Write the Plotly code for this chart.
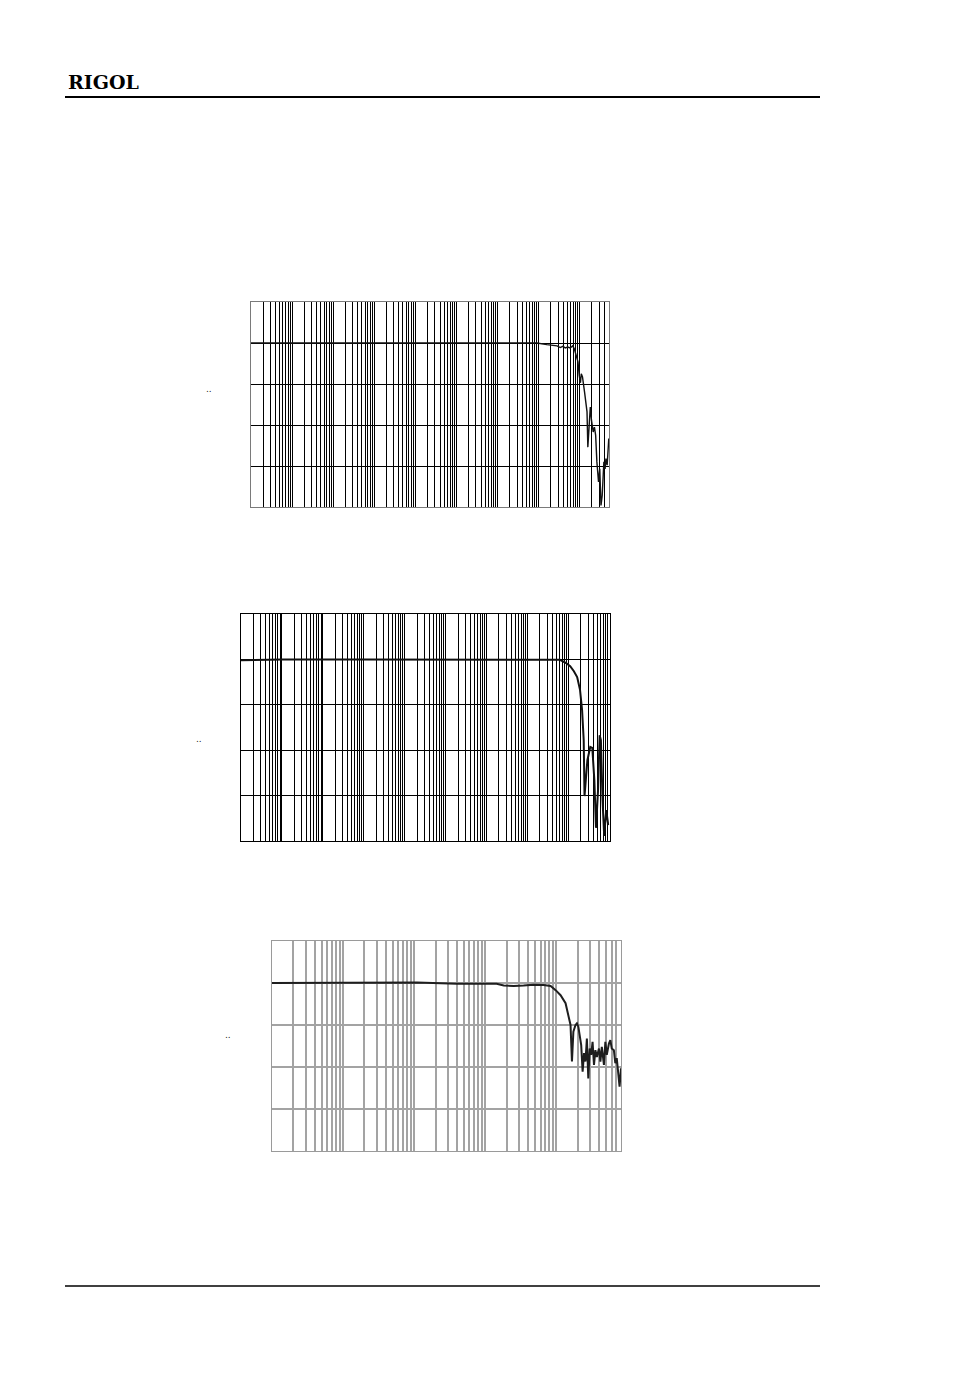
import numpy as np
import plotly.graph_objects as go

PAGE_W, PAGE_H = 954, 1384
OFF = 8  # default body margin of the html page
W, H = PAGE_W - 2 * OFF, PAGE_H - 2 * OFF

# ---------------- data (log10 of frequency, gain in dB) ----------------
p1_logf = [0.0, 2.0, 4.0, 6.0, 6.96, 7.20, 7.45, 7.53, 7.59, 7.65, 7.71, 7.77, 7.83, 7.87,
           7.92, 7.96, 7.99, 8.02, 8.04, 8.07, 8.12, 8.18, 8.20, 8.24, 8.26, 8.29, 8.33,
           8.36, 8.39, 8.42, 8.46, 8.49, 8.52, 8.55, 8.59, 8.62, 8.64, 8.67, 8.71]
p1_db = [0.0, 0.0, 0.0, 0.0, 0.0, -0.4, -0.7, -1.1, -0.8, -1.2, -1.0, -1.2, -0.7, -1.4,
         -3.4, -4.6, -7.9, -9.7, -7.5, -8.3, -12.0, -16.8, -25.4, -16.0, -15.6, -18.9, -21.7,
         -20.5, -22.5, -29.0, -33.9, -30.7, -39.6, -37.2, -29.0, -30.7, -28.2, -29.8, -23.3]

p2_logf = [0.0, 1.0, 3.0, 5.0, 7.0, 7.6, 7.79, 7.94, 8.04, 8.13, 8.21, 8.28, 8.33, 8.37,
           8.38, 8.39, 8.46, 8.53, 8.58, 8.63, 8.67, 8.72, 8.76, 8.79, 8.83, 8.87, 8.92, 8.97]
p2_db = [-0.2, 0.0, 0.0, 0.0, 0.0, 0.0, -0.1, -0.8, -1.5, -2.6, -3.9, -6.7, -11.1, -17.8,
         -24.4, -30.1, -22.2, -19.3, -19.5, -26.6, -37.1, -28.8, -16.7, -17.8, -31.0, -38.9,
         -33.2, -36.5]

p3_logf = [0.0, 1.0, 2.04, 2.60, 3.02, 3.16, 3.26, 3.40, 3.54, 3.68, 3.82, 3.92, 3.99, 4.06,
           4.13, 4.17, 4.20, 4.22, 4.24, 4.27, 4.29, 4.31, 4.35, 4.37, 4.39, 4.41, 4.43, 4.45,
           4.47, 4.49, 4.51, 4.53, 4.55, 4.57, 4.60, 4.62, 4.64, 4.67, 4.69, 4.71, 4.74, 4.76,
           4.78, 4.81, 4.83, 4.85, 4.88, 4.89, 4.91]
p3_db = [0.0, 0.0, 0.1, -0.2, -0.1, -0.2, -0.6, -0.7, -0.6, -0.4, -0.5, -0.7, -1.7, -2.9,
         -4.8, -7.6, -10.0, -18.7, -11.6, -10.0, -9.6, -10.4, -14.8, -21.1, -16.7, -18.7, -13.2,
         -22.7, -15.6, -17.1, -14.0, -19.5, -16.0, -17.6, -15.6, -18.7, -15.2, -19.5, -14.0,
         -17.1, -14.4, -13.6, -15.6, -16.0, -19.1, -17.9, -22.7, -24.7, -20.3]

db_ticks = [-40, -30, -20, -10, 0, 10]
header_text = "RIGOL"

# ---------------- layout helpers (page pixels -> paper fractions) ----------------
def px_x(x):
    return (x - OFF) / W

def px_y(y):
    return 1 - (y - OFF) / H

def log_grid(max_decade):
    return [m * 10.0 ** k for k in range(0, int(np.ceil(max_decade)) + 1) for m in range(1, 10)]

panels = [
    dict(logf=p1_logf, db=p1_db, xr=8.715, box=(251, 302, 609, 507),
         grid="#000000", frame="#7a7a7a", lc="#111111", lw=1.4, gw=1),
    dict(logf=p2_logf, db=p2_db, xr=9.0, box=(241, 614, 609.5, 841),
         grid="#000000", frame="#000000", lc="#111111", lw=2.0, gw=1),
    dict(logf=p3_logf, db=p3_db, xr=4.91, box=(272, 941, 621, 1151),
         grid="#a3a3a3", frame="#9a9a9a", lc="#1e1e1e", lw=2.0, gw=2),
]

fig = go.Figure()
layout = dict(width=W, height=H, margin=dict(l=0, r=0, t=0, b=0),
              paper_bgcolor="white", plot_bgcolor="white", showlegend=False)

for i, p in enumerate(panels, start=1):
    xa = "x" if i == 1 else f"x{i}"
    ya = "y" if i == 1 else f"y{i}"
    fig.add_trace(go.Scatter(x=10 ** np.array(p["logf"]), y=p["db"], mode="lines",
                             line=dict(color=p["lc"], width=p["lw"]),
                             xaxis=xa, yaxis=ya, hoverinfo="skip"))
    x0, y0, x1, y1 = p["box"]
    layout[f"xaxis{'' if i == 1 else i}"] = dict(
        type="log", range=[0, p["xr"]], domain=[px_x(x0), px_x(x1)],
        anchor=ya, tickmode="array", tickvals=log_grid(p["xr"]),
        showgrid=True, gridcolor=p["grid"], gridwidth=p["gw"],
        showticklabels=False, ticks="", showline=True, mirror=True,
        linecolor=p["frame"], linewidth=1, zeroline=False, fixedrange=True)
    layout[f"yaxis{'' if i == 1 else i}"] = dict(
        range=[-40, 10], domain=[px_y(y1), px_y(y0)], anchor=xa,
        tickmode="array", tickvals=db_ticks, showgrid=True, gridcolor=p["grid"],
        gridwidth=p["gw"], showticklabels=False, ticks="", showline=True, mirror=True,
        linecolor=p["frame"], linewidth=1, zeroline=False, fixedrange=True)

fig.update_layout(**layout)

# header / footer rules
fig.add_shape(type="line", xref="paper", yref="paper", x0=px_x(65), x1=px_x(820),
              y0=px_y(97), y1=px_y(97), line=dict(color="black", width=2))
fig.add_shape(type="line", xref="paper", yref="paper", x0=px_x(65), x1=px_x(820),
              y0=px_y(1286), y1=px_y(1286), line=dict(color="black", width=1.5))

fig.add_annotation(text="<b>" + header_text + "</b>", xref="paper", yref="paper",
                   x=px_x(66), y=px_y(82), xanchor="left", yanchor="middle", showarrow=False,
                   font=dict(family="DejaVu Serif", size=19, color="black"))

# tiny axis-label remnants
for (mx, my) in [(209, 389), (199, 739), (228, 1035)]:
    fig.add_annotation(text="..", xref="paper", yref="paper", x=px_x(mx), y=px_y(my),
                       xanchor="center", yanchor="middle", showarrow=False,
                       font=dict(family="DejaVu Sans", size=9, color="#222222"))

fig.write_html("out.html")
